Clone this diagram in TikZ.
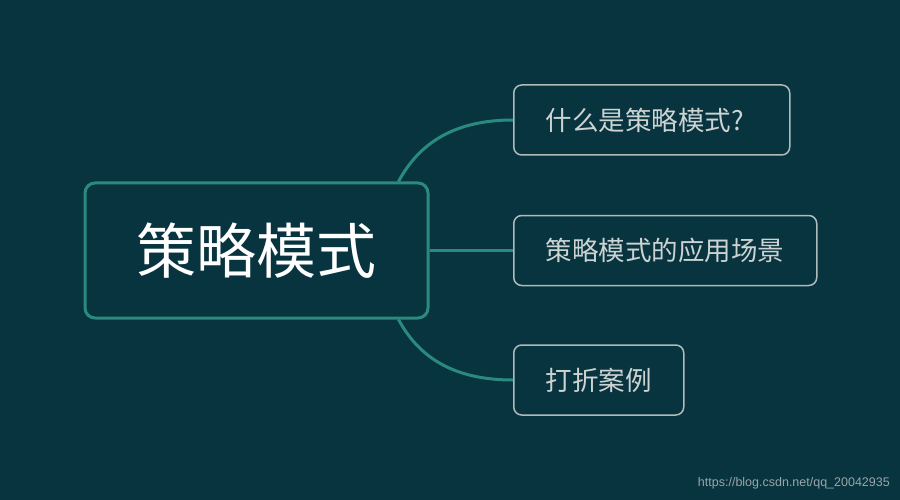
\documentclass[tikz,border=0pt]{standalone}
\usepackage{fontspec}
\newfontfamily\cjk{Noto Sans CJK SC}
\newfontfamily\wm{Liberation Sans}
\usetikzlibrary{calc}
\definecolor{bg}{HTML}{07343F}
\definecolor{teal}{HTML}{2B8A80}
\definecolor{boxline}{HTML}{B0BABA}
\definecolor{boxtext}{HTML}{CDD3D3}
\definecolor{wmtext}{HTML}{9AA6AA}
\tikzset{
  mainbox/.style={draw=teal, line width=3pt, rounded corners=10pt, fill=bg,
    minimum width=343pt, minimum height=135pt, inner sep=0pt,
    text=white, font=\cjk\fontsize{60}{66}\selectfont},
  subbox/.style={draw=boxline, line width=1.5pt, rounded corners=8pt, fill=bg,
    minimum height=70pt, inner ysep=0pt, inner xsep=32pt, anchor=west, align=left,
    text=boxtext, font=\cjk\fontsize{26.5}{30}\selectfont},
  link/.style={draw=teal, line width=3pt},
}
\begin{document}
\begin{tikzpicture}[x=1pt,y=-1pt]
\fill[bg] (0,0) rectangle (900,500);
\useasboundingbox (0,0) rectangle (900,500);
\node[mainbox] (main) at (256.5,250.5) {策略模式};
\node[subbox, text width=212pt] (b1) at (513,120) {\mbox{什么是策略模式?}};
\node[subbox, text width=239pt] (b2) at (513,250.5) {\mbox{策略模式的应用场景}};
\node[subbox, text width=106pt] (b3) at (513,380) {\mbox{打折案例}};
\coordinate (tA) at ($(main.north east)+(-31,0)$);
\coordinate (tB) at ($(main.south east)+(-31,0)$);
\draw[link] (tA) .. controls ($(tA)+(21,-39)$) and ($(b1.west)+(-58,0)$) .. (b1.west);
\draw[link] (main.east) -- (b2.west);
\draw[link] (tB) .. controls ($(tB)+(21,39)$) and ($(b3.west)+(-58,0)$) .. (b3.west);
\node[anchor=east, text=wmtext, font=\wm\fontsize{12.5}{14}\selectfont, inner sep=0pt] (wm) at (890,483) {https://blog.csdn.net/qq\_20042935};
\end{tikzpicture}
\end{document}
